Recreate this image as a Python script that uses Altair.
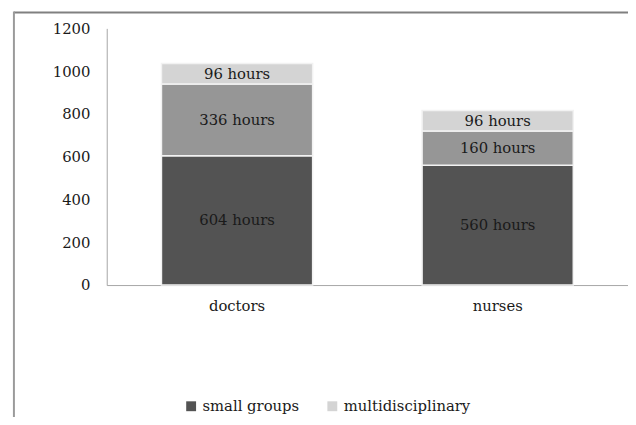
import altair as alt
import pandas as pd

groups = ["doctors", "nurses"]
series = ["small groups", "other", "multidisciplinary"]
small_groups = [604, 560]
other = [336, 160]
multidisciplinary = [96, 96]
legend_values = ["small groups", "multidisciplinary"]
colors = ["#535353", "#969696", "#d4d4d4"]
y_ticks = [0, 200, 400, 600, 800, 1000, 1200]

rows = []
for i, g in enumerate(groups):
    for k, (s, vals) in enumerate(zip(series, [small_groups, other, multidisciplinary])):
        rows.append({"group": g, "series": s, "value": vals[i], "order": k,
                     "label": f"{vals[i]} hours"})
df = pd.DataFrame(rows)

FONT = "DejaVu Serif"

base = alt.Chart(df).transform_stack(
    stack="value", groupby=["group"], as_=["y0", "y1"],
    sort=[alt.SortField("order", order="ascending")]
).transform_calculate(mid="(datum.y0 + datum.y1) / 2")

x = alt.X("group:N", sort=groups, title=None,
          scale=alt.Scale(paddingInner=0.42, paddingOuter=0.21),
          axis=alt.Axis(labelAngle=0, ticks=False, domainColor="#a6a6a6",
                        labelFont=FONT, labelFontSize=15, labelColor="#1a1a1a",
                        labelPadding=14))

bars = base.mark_bar(stroke="#f2f2f2", strokeWidth=1.5).encode(
    x=x,
    y=alt.Y("y0:Q", title=None, scale=alt.Scale(domain=[0, 1200]),
            axis=alt.Axis(values=y_ticks, ticks=False, grid=False, format="d",
                          domainColor="#a6a6a6", labelFont=FONT, labelFontSize=15,
                          labelPadding=17, labelColor="#1a1a1a")),
    y2="y1:Q",
    color=alt.Color("series:N", scale=alt.Scale(domain=series, range=colors),
                    legend=alt.Legend(values=legend_values, orient="none",
                                      legendX=78, legendY=375, direction="horizontal",
                                      title=None, symbolType="square",
                                      labelFont=FONT, labelFontSize=15,
                                      labelColor="#1a1a1a",
                                      symbolSize=100, symbolStrokeWidth=0,
                                      columnPadding=26)),
)

labels = base.mark_text(font=FONT, fontSize=15, color="#1a1a1a").encode(
    x=alt.X("group:N", sort=groups),
    y=alt.Y("mid:Q"),
    text="label:N",
)

frame_df = pd.DataFrame({"k": [0]})
top_line = alt.Chart(frame_df).mark_rect(color="#808080").encode(
    x=alt.value(-94), x2=alt.value(600), y=alt.value(-17), y2=alt.value(-15))
left_line = alt.Chart(frame_df).mark_rect(color="#9a9a9a").encode(
    x=alt.value(-95), x2=alt.value(-93), y=alt.value(-17), y2=alt.value(400))

chart = alt.layer(bars, labels, top_line, left_line).properties(
    width=528, height=260,
    autosize=alt.AutoSizeParams(type="none"),
    padding={"left": 100, "top": 18, "right": 0, "bottom": 131},
).configure_view(stroke=None)

chart.save("out.html", embed_options={"renderer": "svg", "actions": False})
